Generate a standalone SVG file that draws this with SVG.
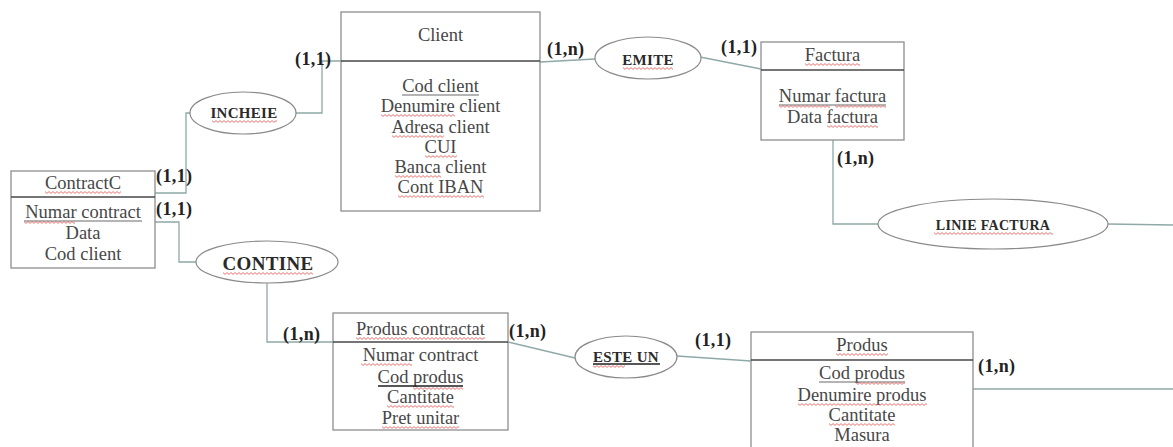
<svg xmlns="http://www.w3.org/2000/svg" width="1173" height="447" viewBox="0 0 1173 447">
  <defs>
    <!-- red wavy spell-check underline -->
    <pattern id="wave" patternUnits="userSpaceOnUse" width="4" height="3">
      <path d="M0 0.6 L2 2.4 L4 0.6" fill="none" stroke="#e0504a" stroke-width="0.8"/>
    </pattern>
    <style>
      .box { fill: #ffffff; stroke: #8e8e8e; stroke-width: 1.3; }
      .div { stroke: #474747; stroke-width: 1.6; }
      .rel { fill: #ffffff; stroke: #8a8a8a; stroke-width: 1.2; }
      .ent { font-family: "Liberation Serif", "Times New Roman", serif; font-size: 18.5px; fill: #474747; text-anchor: middle; }
      .rt { font-family: "Liberation Serif", "Times New Roman", serif; font-weight: bold; fill: #2a2a2a; text-anchor: middle; letter-spacing: 0.3px; }
      .card { font-family: "Liberation Serif", "Times New Roman", serif; font-weight: bold; font-size: 18px; fill: #222222; letter-spacing: 0.4px; }
      .ul { stroke: #6a6a6a; stroke-width: 1.1; }
      .ulk { stroke: #1e1e1e; stroke-width: 1.4; }
      .wv { fill: url(#wave); }
      .conn { fill: none; stroke: #8fa8a8; stroke-width: 1.3; }
    </style>
  </defs>
  <rect width="1173" height="447" fill="#ffffff"/>

  <!-- connectors -->
  <g id="connectors">
    <polyline class="conn" points="155,193 186,193 186,113 190,113"/>
    <polyline class="conn" points="296,113 322,113 322,61 341,61"/>
    <line class="conn" x1="540" y1="62" x2="595" y2="59"/>
    <line class="conn" x1="700" y1="57" x2="761" y2="69"/>
    <polyline class="conn" points="833,140 833,224 878,224"/>
    <line class="conn" x1="1108" y1="224" x2="1173" y2="225"/>
    <polyline class="conn" points="155,222 179,222 179,262 196,262"/>
    <polyline class="conn" points="267,283 267,342 333,342"/>
    <line class="conn" x1="508" y1="342" x2="575" y2="358"/>
    <line class="conn" x1="677" y1="356" x2="751" y2="361"/>
    <line class="conn" x1="973" y1="389" x2="1173" y2="389"/>
  </g>

  <!-- cardinalities -->
  <g id="cardinalities">
    <text class="card" x="295" y="65">(1,1)</text>
    <text class="card" x="547" y="55">(1,n)</text>
    <text class="card" x="721" y="53">(1,1)</text>
    <text class="card" x="837" y="164">(1,n)</text>
    <text class="card" x="156" y="182">(1,1)</text>
    <text class="card" x="156" y="215">(1,1)</text>
    <text class="card" x="283" y="340">(1,n)</text>
    <text class="card" x="509" y="337">(1,n)</text>
    <text class="card" x="695" y="346">(1,1)</text>
    <text class="card" x="978" y="372">(1,n)</text>
  </g>

  <!-- entity: ContractC -->
  <g id="contractc">
    <rect class="box" x="11" y="171" width="144" height="97"/>
    <line class="div" x1="11" y1="197" x2="155" y2="197"/>
    <text class="ent" x="83" y="189">ContractC</text>
    <rect class="wv" transform="translate(45,191)" width="76" height="3"/>
    <text class="ent" x="83" y="218">Numar contract</text>
    <line class="ul" x1="24" y1="221" x2="142" y2="221"/>
    <rect class="wv" transform="translate(24,221)" width="51" height="3"/>
    <text class="ent" x="83" y="239">Data</text>
    <text class="ent" x="83" y="260">Cod client</text>
  </g>

  <!-- entity: Client -->
  <g id="client">
    <rect class="box" x="341" y="12" width="199" height="199"/>
    <line class="div" x1="341" y1="61" x2="540" y2="61"/>
    <text class="ent" x="440.5" y="41">Client</text>
    <text class="ent" x="440.5" y="92">Cod client</text>
    <line class="ul" x1="402" y1="95" x2="479" y2="95"/>
    <text class="ent" x="440.5" y="112">Denumire client</text>
    <rect class="wv" transform="translate(381,114)" width="74" height="3"/>
    <text class="ent" x="440.5" y="133">Adresa client</text>
    <rect class="wv" transform="translate(392,135)" width="52" height="3"/>
    <text class="ent" x="440.5" y="153">CUI</text>
    <rect class="wv" transform="translate(425,155)" width="32" height="3"/>
    <text class="ent" x="440.5" y="173">Banca client</text>
    <rect class="wv" transform="translate(395,175)" width="46" height="3"/>
    <text class="ent" x="440.5" y="193">Cont IBAN</text>
    <rect class="wv" transform="translate(398,195)" width="86" height="3"/>
  </g>

  <!-- entity: Factura -->
  <g id="factura">
    <rect class="box" x="761" y="42" width="143" height="98"/>
    <line class="div" x1="761" y1="70" x2="904" y2="70"/>
    <text class="ent" x="832.5" y="61">Factura</text>
    <rect class="wv" transform="translate(805,63)" width="55" height="3"/>
    <text class="ent" x="832.5" y="102">Numar factura</text>
    <line class="ul" x1="779" y1="105" x2="886" y2="105"/>
    <rect class="wv" transform="translate(779,105)" width="51" height="3"/>
    <rect class="wv" transform="translate(835,105)" width="51" height="3"/>
    <text class="ent" x="832.5" y="123">Data factura</text>
    <rect class="wv" transform="translate(827,125)" width="51" height="3"/>
  </g>

  <!-- entity: Produs contractat -->
  <g id="produs-contractat">
    <rect class="box" x="333" y="313" width="175" height="117"/>
    <line class="div" x1="333" y1="342" x2="508" y2="342"/>
    <text class="ent" x="420.5" y="335">Produs contractat</text>
    <rect class="wv" transform="translate(356,337)" width="129" height="3"/>
    <text class="ent" x="420.5" y="361">Numar contract</text>
    <rect class="wv" transform="translate(361,363)" width="51" height="3"/>
    <text class="ent" x="420.5" y="383">Cod produs</text>
    <line class="ulk" x1="378" y1="386" x2="463" y2="386"/>
    <rect class="wv" transform="translate(413,387)" width="50" height="3"/>
    <text class="ent" x="420.5" y="403">Cantitate</text>
    <rect class="wv" transform="translate(387,405)" width="67" height="3"/>
    <text class="ent" x="420.5" y="424">Pret unitar</text>
    <rect class="wv" transform="translate(382,426)" width="77" height="3"/>
  </g>

  <!-- entity: Produs -->
  <g id="produs">
    <rect class="box" x="751" y="332" width="222" height="120"/>
    <line class="div" x1="751" y1="360" x2="973" y2="360"/>
    <text class="ent" x="862" y="351">Produs</text>
    <rect class="wv" transform="translate(836,353)" width="52" height="3"/>
    <text class="ent" x="862" y="379">Cod produs</text>
    <line class="ul" x1="819" y1="382" x2="905" y2="382"/>
    <rect class="wv" transform="translate(856,382)" width="49" height="3"/>
    <text class="ent" x="862" y="401">Denumire produs</text>
    <rect class="wv" transform="translate(798,403)" width="129" height="3"/>
    <text class="ent" x="862" y="421">Cantitate</text>
    <rect class="wv" transform="translate(829,423)" width="66" height="3"/>
    <text class="ent" x="862" y="441">Masura</text>
  </g>

  <!-- relationship: INCHEIE -->
  <g id="incheie">
    <ellipse class="rel" cx="243" cy="113" rx="53" ry="21"/>
    <text class="rt" x="244" y="118" font-size="15">INCHEIE</text>
    <rect class="wv" transform="translate(212,120)" width="65" height="3"/>
  </g>

  <!-- relationship: EMITE -->
  <g id="emite">
    <ellipse class="rel" cx="648" cy="58" rx="53" ry="21"/>
    <text class="rt" x="648" y="65" font-size="15">EMITE</text>
    <rect class="wv" transform="translate(623,67)" width="50" height="3"/>
  </g>

  <!-- relationship: CONTINE -->
  <g id="contine">
    <ellipse class="rel" cx="267" cy="262" rx="71" ry="21"/>
    <text class="rt" x="268" y="270" font-size="19">CONTINE</text>
    <rect class="wv" transform="translate(223,272)" width="90" height="3"/>
  </g>

  <!-- relationship: ESTE UN -->
  <g id="este-un">
    <ellipse class="rel" cx="626" cy="357" rx="51" ry="21"/>
    <text class="rt" x="626" y="362" font-size="15">ESTE UN</text>
    <line class="ulk" x1="593" y1="364" x2="660" y2="364"/>
    <rect class="wv" transform="translate(593,365)" width="32" height="3"/>
  </g>

  <!-- relationship: LINIE FACTURA -->
  <g id="linie-factura">
    <ellipse class="rel" cx="993" cy="224" rx="115" ry="25"/>
    <text class="rt" x="993" y="230" font-size="14">LINIE FACTURA</text>
    <rect class="wv" transform="translate(934,232)" width="119" height="3"/>
  </g>
</svg>
